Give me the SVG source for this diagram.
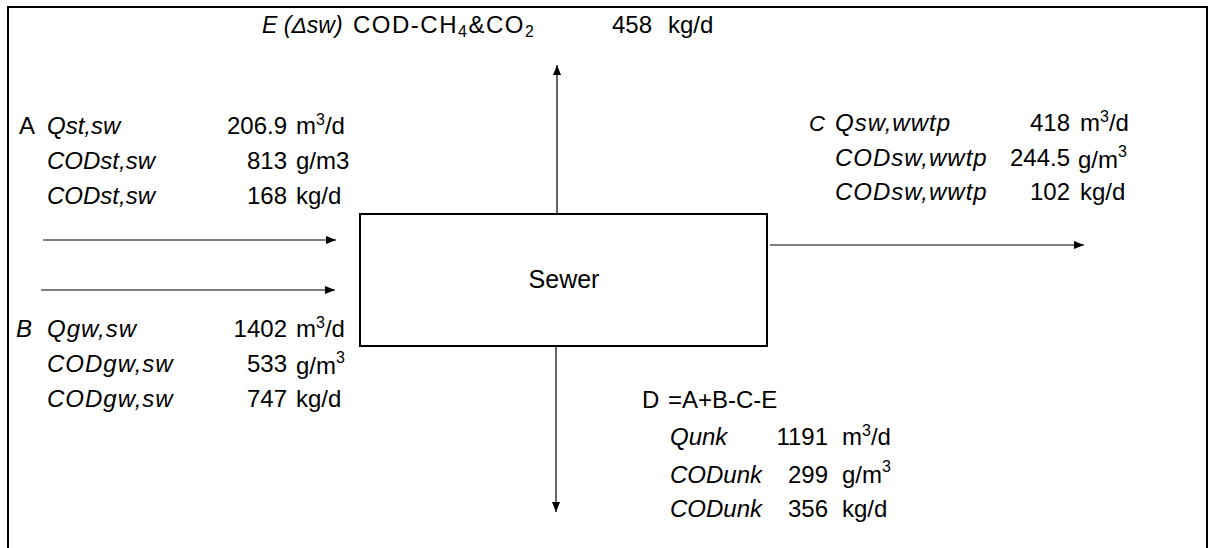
<svg xmlns="http://www.w3.org/2000/svg" width="1210" height="548" viewBox="0 0 1210 548">
<defs>
<style>
text{font-family:"Liberation Sans",Arial,sans-serif;font-size:24px;fill:#000}
.i{font-style:italic}
.n{text-anchor:end}
.sup{font-size:16px}
.w{letter-spacing:1px}
.conn line{stroke:#000;stroke-width:1.2;marker-end:url(#ah)}
</style>
<marker id="ah" markerWidth="10" markerHeight="8" refX="10" refY="4" orient="auto" markerUnits="userSpaceOnUse">
<path d="M0,0 L10,4 L0,8 Z" fill="#000"/>
</marker>
</defs>
<rect width="1210" height="548" fill="#fff"/>
<path d="M8,548 V7 H1207 V548" fill="none" stroke="#000" stroke-width="2"/>
<g id="sewer">
<rect x="360" y="214" width="407" height="132" fill="#fff" stroke="#000" stroke-width="2"/>
<text x="564" y="288" text-anchor="middle" style="font-size:25px">Sewer</text>
</g>
<g class="conn" id="connectors">
<line x1="43" y1="240" x2="336" y2="240"/>
<line x1="41" y1="290" x2="335" y2="290"/>
<line x1="770" y1="245" x2="1084" y2="245"/>
<line x1="557" y1="213" x2="557" y2="65"/>
<line x1="556" y1="347" x2="556" y2="512"/>
</g>
<g id="E">
<text class="i" x="262" y="33" style="font-size:23px">E (Δsw)</text>
<text x="353" y="33" style="letter-spacing:1.5px">COD-CH<tspan class="sup" dy="4">4</tspan><tspan dy="-4">&amp;CO</tspan><tspan class="sup" dy="4">2</tspan></text>
<text x="612" y="33">458</text>
<text x="668" y="33">kg/d</text>
</g>
<g id="A">
<text x="19" y="134">A</text>
<text class="i" x="47" y="134">Qst,sw</text>
<text class="n" x="287" y="134">206.9</text>
<text x="296" y="134">m<tspan class="sup" dy="-9">3</tspan><tspan dy="9">/d</tspan></text>
<text class="i" x="47" y="169">CODst,sw</text>
<text class="n" x="287" y="169">813</text>
<text x="296" y="169">g/m3</text>
<text class="i" x="47" y="204">CODst,sw</text>
<text class="n" x="287" y="204">168</text>
<text x="296" y="204">kg/d</text>
</g>
<g id="B">
<text class="i" x="16" y="337">B</text>
<text class="i w" x="47" y="337">Qgw,sw</text>
<text class="n" x="287" y="337">1402</text>
<text x="296" y="337">m<tspan class="sup" dy="-9">3</tspan><tspan dy="9">/d</tspan></text>
<text class="i w" x="47" y="372">CODgw,sw</text>
<text class="n" x="287" y="372">533</text>
<text x="296" y="374">g/m<tspan class="sup" dy="-11">3</tspan></text>
<text class="i w" x="47" y="407">CODgw,sw</text>
<text class="n" x="287" y="407">747</text>
<text x="296" y="407">kg/d</text>
</g>
<g id="C">
<text class="i" x="809" y="131" style="font-size:22px">C</text>
<text class="i w" x="835" y="131">Qsw,wwtp</text>
<text class="n" x="1070" y="131">418</text>
<text x="1080" y="131">m<tspan class="sup" dy="-9">3</tspan><tspan dy="9">/d</tspan></text>
<text class="i w" x="835" y="166">CODsw,wwtp</text>
<text class="n" x="1070" y="166">244.5</text>
<text x="1078" y="168">g/m<tspan class="sup" dy="-11">3</tspan></text>
<text class="i w" x="835" y="200">CODsw,wwtp</text>
<text class="n" x="1070" y="200">102</text>
<text x="1080" y="200">kg/d</text>
</g>
<g id="D">
<text x="642" y="408">D</text>
<text x="668" y="408">=A+B-C-E</text>
<text class="i" x="670" y="445">Qunk</text>
<text class="n" x="828" y="445">1191</text>
<text x="842" y="445">m<tspan class="sup" dy="-9">3</tspan><tspan dy="9">/d</tspan></text>
<text class="i" x="670" y="483">CODunk</text>
<text class="n" x="828" y="483">299</text>
<text x="842" y="483">g/m<tspan class="sup" dy="-11">3</tspan></text>
<text class="i" x="670" y="517">CODunk</text>
<text class="n" x="828" y="517">356</text>
<text x="842" y="517">kg/d</text>
</g>
</svg>
